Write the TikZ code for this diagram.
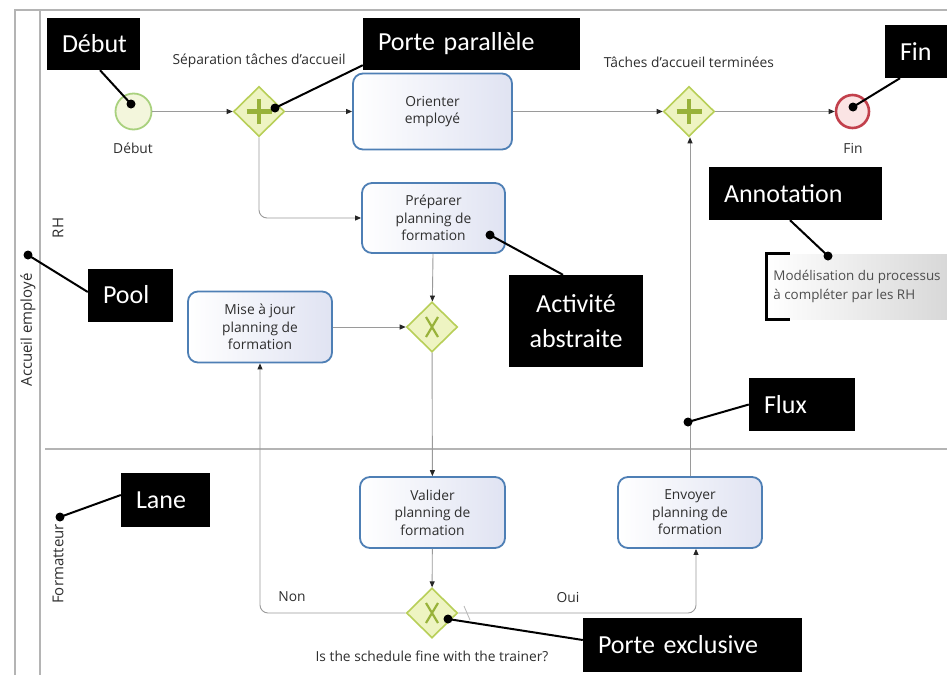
\documentclass[tikz,border=0pt]{standalone}
\usepackage{fontspec}
\setmainfont{Open Sans}
\newfontfamily\calloutface{Carlito}
\usetikzlibrary{shapes.geometric,arrows.meta}

\definecolor{taskblue}{HTML}{4E7FB5}
\definecolor{taskfill}{HTML}{E0E3F2}
\definecolor{gateline}{HTML}{B8CF58}
\definecolor{gatefill}{HTML}{EEF4C2}
\definecolor{gatemark}{HTML}{98B23A}
\definecolor{flowgray}{HTML}{9A9A9A}
\definecolor{framegray}{HTML}{B4B4B4}
\definecolor{darktext}{HTML}{2E2E2E}
\definecolor{startline}{HTML}{A9D17E}
\definecolor{startfill}{HTML}{F3F6DC}
\definecolor{endline}{HTML}{C2404C}
\definecolor{endfill}{HTML}{FBE4E4}
\definecolor{notefill}{HTML}{D8D8D8}

\newcommand\diagtext{\fontsize{13.8}{17.5}\selectfont}
\newcommand\notetext{\fontsize{13.4}{19}\selectfont}
\newcommand\lanetext{\fontsize{15}{17.5}\selectfont}
\newcommand\calltext{\calloutface\fontsize{26}{35}\selectfont}

\tikzset{
  frame/.style={draw=framegray, line width=1.4pt},
  task/.style={draw=taskblue, line width=1.8pt, rounded corners=10pt,
    left color=white, right color=taskfill, align=center,
    font=\diagtext, text=darktext, inner sep=0pt},
  gate/.style={diamond, draw=gateline, fill=gatefill, line width=1.6pt,
    minimum width=51pt, minimum height=50pt, inner sep=0pt},
  pgate/.style={gate, path picture={
    \draw[gatemark, line width=4.5pt]
      ([xshift=-12.5pt]path picture bounding box.center) -- ([xshift=12.5pt]path picture bounding box.center)
      ([yshift=-12.5pt]path picture bounding box.center) -- ([yshift=12.5pt]path picture bounding box.center);}},
  xgate/.style={gate, path picture={
    \draw[gatemark, line width=2.2pt]
      ([shift={(-6pt,-10pt)}]path picture bounding box.center) -- ([shift={(6pt,10pt)}]path picture bounding box.center)
      ([shift={(-6pt,10pt)}]path picture bounding box.center) -- ([shift={(6pt,-10pt)}]path picture bounding box.center);}},
  flow/.style={draw=flowgray, line width=0.9pt, rounded corners=8pt,
    -{Triangle[length=6pt,width=5pt,color=black!85]}},
  lbl/.style={font=\diagtext, text=darktext, inner sep=0pt},
  lanelbl/.style={font=\lanetext, text=darktext, rotate=90, inner sep=0pt},
  callout/.style={fill=black, text=white, font=\calltext, inner xsep=15pt,
    inner ysep=0pt, align=left},
  pin/.style={draw=black, line width=2pt},
  pindot/.style={fill=black},
  note/.style={left color=white, right color=notefill, font=\notetext,
    text=darktext!85, align=left, inner xsep=3pt, inner ysep=0pt,
    minimum width=180pt, minimum height=65pt},
  bracket/.style={draw=black, line width=3pt}
}

\begin{document}
\begin{tikzpicture}[x=1pt,y=-1pt]
\useasboundingbox (0,0) rectangle (947,675);
\fill[white] (0,0) rectangle (947,675);

% pool and lanes
\draw[frame] (15,675) -- (15,10) -- (947,10);
\draw[frame] (40,10) -- (40,675);
\draw[frame] (45,449) -- (947,449);
\node[lanelbl] (poolname) at (28,330) {Accueil employé};
\node[lanelbl] (laneRH) at (58,228) {RH};
\node[lanelbl] (laneForm) at (58,564) {Formatteur};

% events
\node[circle, draw=startline, fill=startfill, line width=1.8pt, minimum size=36pt, inner sep=0pt] (start) at (133.5,111.5) {};
\node[lbl] (startlbl) at (133,148) {Début};
\node[circle, draw=endline, fill=endfill, line width=2.6pt, minimum size=33pt, inner sep=0pt] (end) at (852.5,111.5) {};
\node[lbl] (endlbl) at (853,148) {Fin};

% gateways
\node[pgate] (g1) at (259,111.5) {};
\node[lbl] (g1lbl) at (259,61) {Séparation tâches d'accueil};
\node[pgate] (g2) at (689,111.5) {};
\node[lbl] (g2lbl) at (689,62) {Tâches d'accueil terminées};
\node[xgate] (x1) at (432,327) {};
\node[xgate] (x2) at (432,613) {};
\node[lbl] (x2lbl) at (432,656) {Is the schedule fine with the trainer?};

% tasks
\node[task, minimum width=159pt, minimum height=76pt] (orient) at (432.5,111.5) {Orienter\\employé};
\node[task, minimum width=143pt, minimum height=70pt] (prep) at (433.5,218) {Préparer\\planning de\\formation};
\node[task, minimum width=144pt, minimum height=71pt] (maj) at (260,327) {Mise à jour\\planning de\\formation};
\node[task, minimum width=145pt, minimum height=71pt] (val) at (432.5,512.5) {Valider\\planning de\\formation};
\node[task, minimum width=144pt, minimum height=71pt] (env) at (690,512.5) {Envoyer\\planning de\\formation};

% annotation
\node[note] (note) at (857,286.5) {Modélisation du processus\\à compléter par les RH};
\draw[bracket] ([xshift=23pt]note.north west) -- (note.north west) -- (note.south west) -- ([xshift=23pt]note.south west);

% sequence flows
\draw[flow] (start) -- (g1);
\draw[flow] (g1) -- (orient);
\draw[flow] (g1.south) |- (prep.west);
\draw[flow] (orient) -- (g2);
\draw[flow] (g2) -- (end);
\draw[flow] (prep) -- (x1);
\draw[flow] (maj) -- (x1);
\draw[flow] (x1) -- (val);
\draw[flow] (val) -- (x2);
\draw[flow] (x2.west) -| (maj.south);
\draw[flow] (x2.east) -| ([xshift=6pt]env.south);
\draw[flow] (env.north) -- (env.north |- g2.south);
\node[lbl] (nonlbl) at (292,597) {Non};
\node[lbl] (ouilbl) at (568,597) {Oui};
% default-flow marker on the "Oui" branch
\coordinate (dm1) at (464,606);
\coordinate (dm2) at (470,620);
\draw[flowgray!70, line width=0.8pt] (dm1) -- (dm2);

% callouts
\node[callout, text width=63pt, minimum height=52pt] (cDeb) at (93.5,44) {Début};
\node[callout, text width=187pt, minimum height=52pt] (cPar) at (471.5,44) {Porte parallèle};
\node[callout, text width=32pt, minimum height=53pt] (cFin) at (916,51.5) {Fin};
\node[callout, text width=143pt, minimum height=53pt] (cAnn) at (795.5,193.5) {Annotation};
\node[callout, text width=55pt, minimum height=53pt] (cPool) at (130.5,295) {Pool};
\node[callout, text width=104pt, minimum height=92pt, align=center] (cAct) at (576,321) {Activité\\abstraite};
\node[callout, text width=76pt, minimum height=53pt] (cFlux) at (802,404.5) {Flux};
\node[callout, text width=59pt, minimum height=54pt] (cLane) at (165.5,500) {Lane};
\node[callout, text width=189pt, minimum height=54pt] (cExc) at (692.5,645) {Porte exclusive};

% callout pins
\coordinate (pDeb) at (131,104);
\coordinate (pPar) at (275,108);
\coordinate (pFin) at (853,107);
\coordinate (pAnn) at (828,256);
\coordinate (pPool) at (28,255);
\coordinate (pAct) at (490,235);
\coordinate (pFlux) at (688,422);
\coordinate (pLane) at (60,517);
\coordinate (pExc) at (448,619);

\draw[pin] ([xshift=6.5pt]cDeb.south) -- (pDeb);
\draw[pin] ([yshift=5pt]cPar.south west) -- (pPar);
\draw[pin] ([xshift=-16pt]cFin.south) -- (pFin);
\draw[pin] ([xshift=-5.5pt]cAnn.south) -- (pAnn);
\draw[pin] ([yshift=3pt]cPool.west) -- (pPool);
\draw[pin] ([xshift=-13pt]cAct.north) -- (pAct);
\draw[pin] (cFlux.west) -- (pFlux);
\draw[pin] ([yshift=5pt]cLane.west) -- (pLane);
\draw[pin] ([yshift=5pt]cExc.west) -- (pExc);

\foreach \p in {pDeb,pPar,pFin,pAnn,pPool,pAct,pFlux,pLane,pExc}
  \fill[pindot] (\p) circle (4.5pt);
\end{tikzpicture}
\end{document}
